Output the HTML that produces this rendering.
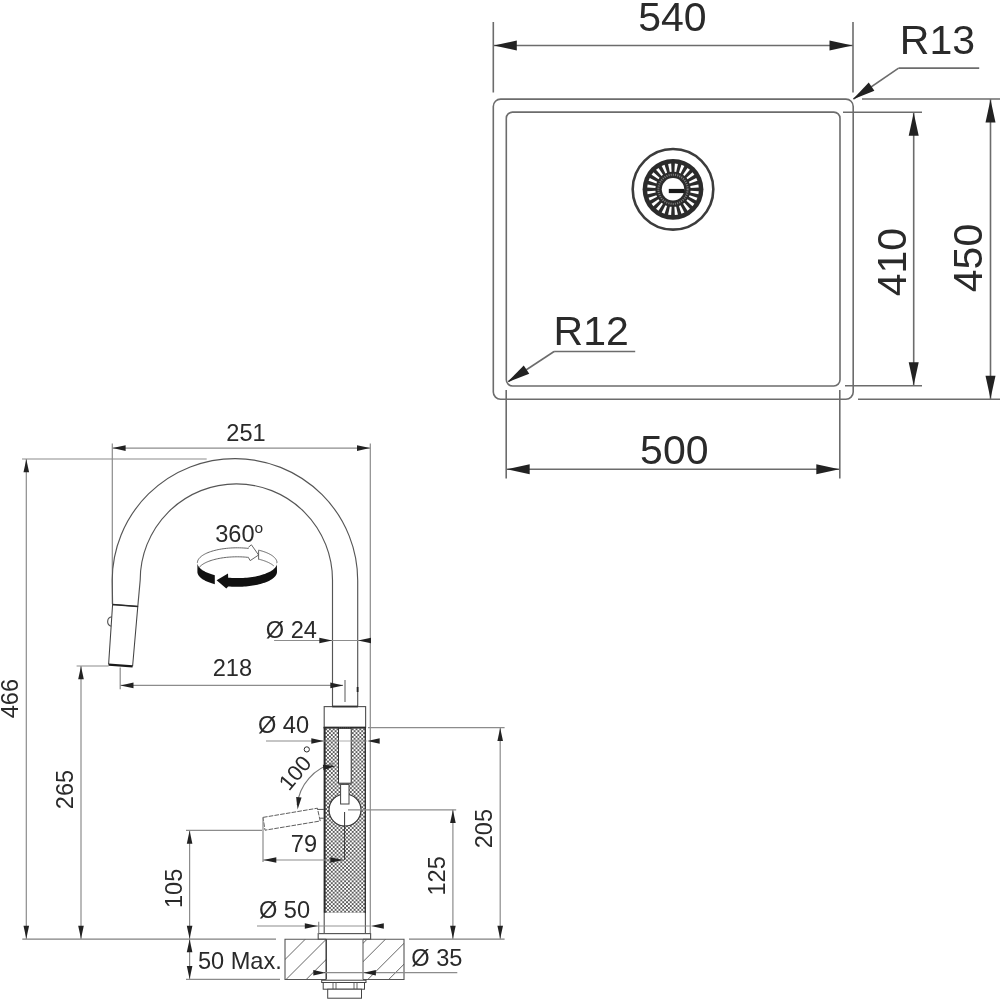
<!DOCTYPE html>
<html><head><meta charset="utf-8"><title>Technical drawing</title>
<style>
html,body{margin:0;padding:0;background:#fff;}
body{width:1000px;height:1000px;overflow:hidden;}
svg{display:block;will-change:transform;opacity:0.999;}
svg text{font-family:"Liberation Sans",sans-serif;}
</style></head><body>
<svg width="1000" height="1000" viewBox="0 0 1000 1000">
<rect width="1000" height="1000" fill="#fff"/>
<rect x="493.3" y="99.1" width="359.9" height="300.1" rx="7.3" ry="7.3" fill="none" stroke="#6c6c6c" stroke-width="1.6"/>
<rect x="506.3" y="112.1" width="333.7" height="273.9" rx="6.2" ry="6.2" fill="none" stroke="#6c6c6c" stroke-width="1.6"/>
<line x1="493.30" y1="22.00" x2="493.30" y2="92.50" stroke="#6c6c6c" stroke-width="1.6" />
<line x1="853.00" y1="22.00" x2="853.00" y2="92.50" stroke="#6c6c6c" stroke-width="1.6" />
<line x1="493.30" y1="45.50" x2="853.00" y2="45.50" stroke="#6c6c6c" stroke-width="1.6" />
<polygon points="493.80,45.50 516.80,40.50 516.80,50.50" fill="#222"/>
<polygon points="852.50,45.50 829.50,50.50 829.50,40.50" fill="#222"/>
<text transform="translate(638.26,30.79)" font-size="41.0" fill="#2a2a2a">540</text>
<text transform="translate(899.81,53.80)" font-size="41.0" fill="#2a2a2a">R13</text>
<line x1="898.60" y1="68.10" x2="979.20" y2="68.10" stroke="#6c6c6c" stroke-width="1.6" />
<line x1="898.60" y1="68.10" x2="853.50" y2="99.00" stroke="#6c6c6c" stroke-width="1.6" />
<polygon points="852.60,99.60 868.75,82.48 874.40,90.73" fill="#222"/>
<line x1="843.00" y1="112.30" x2="922.00" y2="112.30" stroke="#6c6c6c" stroke-width="1.6" />
<line x1="845.00" y1="385.80" x2="922.00" y2="385.80" stroke="#6c6c6c" stroke-width="1.6" />
<line x1="913.70" y1="112.30" x2="913.70" y2="385.80" stroke="#6c6c6c" stroke-width="1.6" />
<polygon points="913.70,112.80 918.70,135.80 908.70,135.80" fill="#222"/>
<polygon points="913.70,385.30 908.70,362.30 918.70,362.30" fill="#222"/>
<text transform="translate(905.75,296.32) rotate(-90)" font-size="41.0" fill="#2a2a2a">410</text>
<line x1="862.00" y1="99.00" x2="1000.00" y2="99.00" stroke="#6c6c6c" stroke-width="1.6" />
<line x1="858.00" y1="399.20" x2="1000.00" y2="399.20" stroke="#6c6c6c" stroke-width="1.6" />
<line x1="990.50" y1="99.00" x2="990.50" y2="399.20" stroke="#6c6c6c" stroke-width="1.6" />
<polygon points="990.50,99.50 995.50,122.50 985.50,122.50" fill="#222"/>
<polygon points="990.50,398.70 985.50,375.70 995.50,375.70" fill="#222"/>
<text transform="translate(981.50,292.18) rotate(-90)" font-size="41.0" fill="#2a2a2a">450</text>
<line x1="506.20" y1="390.00" x2="506.20" y2="478.40" stroke="#6c6c6c" stroke-width="1.6" />
<line x1="839.80" y1="390.00" x2="839.80" y2="478.40" stroke="#6c6c6c" stroke-width="1.6" />
<line x1="506.20" y1="469.30" x2="839.80" y2="469.30" stroke="#6c6c6c" stroke-width="1.6" />
<polygon points="506.70,469.30 529.70,464.30 529.70,474.30" fill="#222"/>
<polygon points="839.30,469.30 816.30,474.30 816.30,464.30" fill="#222"/>
<text transform="translate(640.12,463.94)" font-size="41.0" fill="#2a2a2a">500</text>
<text transform="translate(553.57,344.95)" font-size="41.0" fill="#2a2a2a">R12</text>
<line x1="554.10" y1="351.50" x2="635.20" y2="351.50" stroke="#6c6c6c" stroke-width="1.6" />
<line x1="554.10" y1="351.50" x2="508.50" y2="381.50" stroke="#6c6c6c" stroke-width="1.6" />
<polygon points="507.30,382.30 523.76,365.48 529.26,373.83" fill="#222"/>
<circle cx="673.0" cy="189.3" r="40.3" fill="none" stroke="#3c3c3c" stroke-width="2.6"/>
<circle cx="673.0" cy="189.3" r="30.4" fill="#2b2b2b"/>
<polygon points="690.33,192.49 698.38,194.20 698.78,191.13 690.57,190.70" fill="#fff"/>
<polygon points="688.92,196.87 696.24,200.61 697.43,197.74 689.60,195.20" fill="#fff"/>
<polygon points="686.42,200.73 692.52,206.24 694.41,203.78 687.51,199.30" fill="#fff"/>
<polygon points="683.00,203.81 687.48,210.71 689.94,208.82 684.43,202.72" fill="#fff"/>
<polygon points="678.90,205.90 681.44,213.73 684.31,212.54 680.57,205.22" fill="#fff"/>
<polygon points="674.40,206.87 674.83,215.08 677.90,214.68 676.19,206.63" fill="#fff"/>
<polygon points="669.81,206.63 668.10,214.68 671.17,215.08 671.60,206.87" fill="#fff"/>
<polygon points="665.43,205.22 661.69,212.54 664.56,213.73 667.10,205.90" fill="#fff"/>
<polygon points="661.57,202.72 656.06,208.82 658.52,210.71 663.00,203.81" fill="#fff"/>
<polygon points="658.49,199.30 651.59,203.78 653.48,206.24 659.58,200.73" fill="#fff"/>
<polygon points="656.40,195.20 648.57,197.74 649.76,200.61 657.08,196.87" fill="#fff"/>
<polygon points="655.43,190.70 647.22,191.13 647.62,194.20 655.67,192.49" fill="#fff"/>
<polygon points="655.67,186.11 647.62,184.40 647.22,187.47 655.43,187.90" fill="#fff"/>
<polygon points="657.08,181.73 649.76,177.99 648.57,180.86 656.40,183.40" fill="#fff"/>
<polygon points="659.58,177.87 653.48,172.36 651.59,174.82 658.49,179.30" fill="#fff"/>
<polygon points="663.00,174.79 658.52,167.89 656.06,169.78 661.57,175.88" fill="#fff"/>
<polygon points="667.10,172.70 664.56,164.87 661.69,166.06 665.43,173.38" fill="#fff"/>
<polygon points="671.60,171.73 671.17,163.52 668.10,163.92 669.81,171.97" fill="#fff"/>
<polygon points="676.19,171.97 677.90,163.92 674.83,163.52 674.40,171.73" fill="#fff"/>
<polygon points="680.57,173.38 684.31,166.06 681.44,164.87 678.90,172.70" fill="#fff"/>
<polygon points="684.43,175.88 689.94,169.78 687.48,167.89 683.00,174.79" fill="#fff"/>
<polygon points="687.51,179.30 694.41,174.82 692.52,172.36 686.42,177.87" fill="#fff"/>
<polygon points="689.60,183.40 697.43,180.86 696.24,177.99 688.92,181.73" fill="#fff"/>
<polygon points="690.57,187.90 698.78,187.47 698.38,184.40 690.33,186.11" fill="#fff"/>
<circle cx="673.0" cy="189.3" r="14.6" fill="none" stroke="#7c7c7c" stroke-width="2.0" stroke-dasharray="1.1 1.1"/>
<circle cx="673.0" cy="189.3" r="11.2" fill="#fff"/>
<rect x="668.8" y="188.9" width="15.6" height="4.2" fill="#1a1a1a"/>
<line x1="22.30" y1="939.10" x2="276.00" y2="939.10" stroke="#808080" stroke-width="1.3" />
<line x1="409.00" y1="939.10" x2="504.60" y2="939.10" stroke="#808080" stroke-width="1.3" />
<line x1="22.00" y1="459.00" x2="206.70" y2="459.00" stroke="#8c8c8c" stroke-width="1.2" />
<line x1="26.30" y1="459.00" x2="26.30" y2="939.00" stroke="#8c8c8c" stroke-width="1.2" />
<polygon points="26.30,459.30 29.10,472.30 23.50,472.30" fill="#222"/>
<polygon points="26.30,938.70 23.50,925.70 29.10,925.70" fill="#222"/>
<text transform="translate(18.14,718.31) rotate(-90)" font-size="23.6" fill="#2a2a2a">466</text>
<line x1="76.60" y1="666.00" x2="108.60" y2="666.00" stroke="#8c8c8c" stroke-width="1.2" />
<line x1="81.00" y1="666.00" x2="81.00" y2="939.00" stroke="#8c8c8c" stroke-width="1.2" />
<polygon points="81.00,666.30 83.80,679.30 78.20,679.30" fill="#222"/>
<polygon points="81.00,938.70 78.20,925.70 83.80,925.70" fill="#222"/>
<text transform="translate(72.94,809.16) rotate(-90)" font-size="23.6" fill="#2a2a2a">265</text>
<line x1="186.00" y1="830.40" x2="262.00" y2="830.40" stroke="#8c8c8c" stroke-width="1.2" />
<line x1="189.60" y1="830.40" x2="189.60" y2="979.40" stroke="#8c8c8c" stroke-width="1.2" />
<polygon points="189.60,830.70 192.40,843.70 186.80,843.70" fill="#222"/>
<polygon points="189.60,938.70 186.80,925.70 192.40,925.70" fill="#222"/>
<polygon points="189.60,939.30 192.40,952.30 186.80,952.30" fill="#222"/>
<polygon points="189.60,979.10 186.80,966.10 192.40,966.10" fill="#222"/>
<text transform="translate(182.44,908.06) rotate(-90)" font-size="23.6" fill="#2a2a2a">105</text>
<line x1="186.00" y1="979.40" x2="280.00" y2="979.40" stroke="#8c8c8c" stroke-width="1.2" />
<text transform="translate(197.89,968.64)" font-size="23.6" fill="#2a2a2a">50 Max.</text>
<line x1="112.30" y1="443.40" x2="112.30" y2="604.00" stroke="#8c8c8c" stroke-width="1.2" />
<line x1="370.30" y1="443.40" x2="370.30" y2="933.50" stroke="#8c8c8c" stroke-width="1.2" />
<line x1="112.30" y1="448.10" x2="370.30" y2="448.10" stroke="#8c8c8c" stroke-width="1.2" />
<polygon points="112.60,448.10 125.60,445.30 125.60,450.90" fill="#222"/>
<polygon points="370.00,448.10 357.00,450.90 357.00,445.30" fill="#222"/>
<text transform="translate(226.29,440.54)" font-size="23.6" fill="#2a2a2a">251</text>
<path d="M112.6 604.4 L112.2 580 A122.75 121.9 0 0 1 357.7 581 L357.7 707" fill="none" stroke="#555555" stroke-width="1.15"/>
<path d="M137.8 606.4 L140.2 580 A96.15 96.1 0 0 1 332.5 580 L332.5 707" fill="none" stroke="#555555" stroke-width="1.15"/>
<path d="M112.6 604.4 L137.8 606.4 L132.6 666.2 M108.6 664.4 L112.6 604.4" fill="none" stroke="#444" stroke-width="1.05"/>
<line x1="108.60" y1="664.60" x2="132.60" y2="666.40" stroke="#1a1a1a" stroke-width="2.2" />
<line x1="112.40" y1="604.50" x2="137.90" y2="606.50" stroke="#2a2a2a" stroke-width="1.7" />
<path d="M111.9 616.8 A4.8 4.8 0 0 0 111.2 626.2" fill="none" stroke="#555555" stroke-width="1.15"/>
<g id="rot">
<polygon points="197.40,562.80 197.41,563.16 197.45,563.53 197.51,563.89 197.59,564.26 197.69,564.62 197.82,564.98 197.98,565.34 198.15,565.70 198.35,566.06 198.57,566.41 198.82,566.77 199.08,567.12 199.37,567.46 199.69,567.81 200.02,568.15 200.38,568.49 200.75,568.83 201.15,569.16 201.58,569.49 202.02,569.81 202.48,570.13 202.96,570.45 203.47,570.76 203.99,571.07 204.54,571.37 205.10,571.67 205.68,571.96 206.28,572.24 206.90,572.53 207.54,572.80 208.19,573.07 208.86,573.33 209.55,573.59 210.25,573.84 210.97,574.08 211.71,574.32 212.46,574.55 213.23,574.77 214.01,574.99 214.80,575.20 214.80,584.20 214.01,583.99 213.23,583.77 212.46,583.55 211.71,583.32 210.97,583.08 210.25,582.84 209.55,582.59 208.86,582.33 208.19,582.07 207.54,581.80 206.90,581.53 206.28,581.24 205.68,580.96 205.10,580.67 204.54,580.37 203.99,580.07 203.47,579.76 202.96,579.45 202.48,579.13 202.02,578.81 201.58,578.49 201.15,578.16 200.75,577.83 200.38,577.49 200.02,577.15 199.69,576.81 199.37,576.46 199.08,576.12 198.82,575.77 198.57,575.41 198.35,575.06 198.15,574.70 197.98,574.34 197.82,573.98 197.69,573.62 197.59,573.26 197.51,572.89 197.45,572.53 197.41,572.16 197.40,571.80" fill="#111" stroke="none" stroke-width="0"/>
<polygon points="276.80,561.60 276.95,562.31 277.00,563.02 276.96,563.74 276.84,564.45 276.63,565.15 276.32,565.86 275.93,566.55 275.45,567.24 274.89,567.92 274.24,568.59 273.51,569.25 272.69,569.89 271.80,570.52 270.82,571.13 269.77,571.72 268.65,572.29 267.46,572.84 266.20,573.37 264.87,573.88 263.48,574.36 262.04,574.82 260.53,575.25 258.98,575.66 257.37,576.03 255.72,576.38 254.03,576.69 252.30,576.98 250.53,577.23 248.74,577.46 246.92,577.65 245.07,577.80 243.21,577.93 241.34,578.02 239.46,578.08 237.57,578.10 235.68,578.09 233.79,578.04 231.92,577.97 230.05,577.86 228.20,577.71 228.00,573.40 216.60,580.30 226.30,588.40 228.20,586.41 229.95,586.55 231.72,586.66 233.50,586.73 235.28,586.78 237.07,586.80 238.86,586.79 240.65,586.74 242.43,586.67 244.19,586.57 245.95,586.43 247.69,586.27 249.40,586.08 251.09,585.86 252.75,585.61 254.39,585.33 255.98,585.02 257.54,584.69 259.06,584.34 260.53,583.95 261.96,583.54 263.33,583.11 264.66,582.66 265.92,582.18 267.13,581.69 268.28,581.17 269.37,580.63 270.39,580.08 271.34,579.51 272.23,578.92 273.04,578.32 273.78,577.71 274.45,577.08 275.04,576.44 275.56,575.80 276.00,575.14 276.36,574.48 276.64,573.82 276.84,573.15 276.96,572.47 277.00,571.80" fill="#111" stroke="none" stroke-width="0"/>
<polyline points="197.40,562.80 197.44,562.10 197.57,561.41 197.79,560.71 198.09,560.02 198.47,559.34 198.94,558.67 199.49,558.00 200.13,557.34 200.84,556.70 201.63,556.07 202.50,555.45 203.45,554.85 204.46,554.27 205.55,553.70 206.71,553.16 207.93,552.64 209.22,552.13 210.56,551.65 211.97,551.20 213.43,550.77 214.94,550.37 216.50,549.99 218.10,549.64 219.74,549.32 221.43,549.03 223.14,548.77 224.89,548.54 226.67,548.34 228.46,548.17 230.28,548.03 232.11,547.92 233.95,547.85 235.80,547.81 237.65,547.80 239.50,547.83 241.35,547.88 243.18,547.97 245.01,548.09 246.81,548.24 248.60,548.43" fill="none" stroke="#555" stroke-width="0.9"/>
<polyline points="198.64,568.09 199.07,567.50 199.56,566.93 200.11,566.36 200.72,565.80 201.40,565.25 202.13,564.71 202.92,564.18 203.76,563.66 204.66,563.16 205.62,562.67 206.62,562.20 207.67,561.74 208.78,561.30 209.93,560.88 211.12,560.47 212.35,560.08 213.63,559.71 214.95,559.36 216.30,559.04 217.68,558.73 219.10,558.44 220.55,558.18 222.02,557.93 223.52,557.71 225.04,557.52 226.58,557.34 228.14,557.19 229.71,557.07 231.30,556.97 232.89,556.89 234.50,556.83 236.10,556.81 237.71,556.80 239.32,556.82 240.92,556.87 242.52,556.93 244.11,557.03 245.69,557.15 247.25,557.29 248.80,557.45" fill="none" stroke="#555" stroke-width="0.9"/>
<polyline points="248.40,547.30 251.40,544.80 258.60,555.00 250.20,560.60 248.70,558.00" fill="none" stroke="#555" stroke-width="0.9"/>
<polyline points="258.60,559.40 258.60,550.40 258.60,550.15 259.43,550.36 260.26,550.57 261.06,550.79 261.85,551.02 262.63,551.26 263.39,551.50 264.13,551.76 264.86,552.01 265.57,552.28 266.26,552.55 266.93,552.83 267.58,553.11 268.22,553.40 268.84,553.70 269.43,554.00 270.01,554.31 270.56,554.62 271.09,554.94 271.61,555.26 272.10,555.59 272.57,555.92 273.01,556.26 273.44,556.60 273.84,556.94 274.22,557.29 274.57,557.64 274.90,558.00 275.21,558.35 275.50,558.71 275.76,559.08 275.99,559.44 276.20,559.81 276.39,560.18 276.55,560.55 276.69,560.92 276.80,561.30 276.89,561.67 276.95,562.05 276.99,562.42 277.00,562.80" fill="none" stroke="#555" stroke-width="0.9"/>
<polyline points="258.60,559.40 259.27,559.32 259.75,559.44 260.22,559.56 260.69,559.69 261.16,559.82 261.62,559.96 262.08,560.09 262.53,560.23 262.97,560.37 263.41,560.51 263.84,560.66 264.27,560.80 264.69,560.95 265.11,561.11 265.52,561.26 265.93,561.42 266.32,561.58 266.72,561.74 267.10,561.90 267.48,562.07 267.86,562.23 268.22,562.40 268.58,562.57 268.94,562.75 269.28,562.92 269.62,563.10 269.96,563.28 270.28,563.46 270.60,563.64 270.91,563.83 271.22,564.01 271.52,564.20 271.81,564.39 272.09,564.58 272.36,564.77 272.63,564.97 272.89,565.16 273.15,565.36 273.39,565.56 273.63,565.76 273.86,565.96" fill="none" stroke="#555" stroke-width="0.9"/>
</g>
<text transform="translate(215.14,541.54)" font-size="23.6" fill="#2a2a2a">360</text>
<text transform="translate(254.60,533.01)" font-size="15.5" fill="#2a2a2a">o</text>
<text transform="translate(265.79,637.50)" font-size="23.6" fill="#2a2a2a">Ø 24</text>
<line x1="274.10" y1="640.50" x2="370.30" y2="640.50" stroke="#8c8c8c" stroke-width="1.2" />
<polygon points="332.30,640.50 319.30,643.30 319.30,637.70" fill="#222"/>
<polygon points="358.00,640.50 371.00,637.70 371.00,643.30" fill="#222"/>
<text transform="translate(212.74,676.44)" font-size="23.6" fill="#2a2a2a">218</text>
<line x1="120.20" y1="667.60" x2="120.20" y2="689.20" stroke="#8c8c8c" stroke-width="1.2" />
<line x1="120.20" y1="685.40" x2="343.00" y2="685.40" stroke="#8c8c8c" stroke-width="1.2" />
<polygon points="120.50,685.40 133.50,682.60 133.50,688.20" fill="#222"/>
<polygon points="343.30,685.40 330.30,688.20 330.30,682.60" fill="#222"/>
<line x1="345.00" y1="680.00" x2="345.00" y2="702.00" stroke="#666" stroke-width="1.1" />
<line x1="357.60" y1="687.00" x2="357.60" y2="692.00" stroke="#222" stroke-width="1.8" />
<rect x="324.2" y="706.6" width="41.4" height="20.8" fill="#fff" stroke="#555555" stroke-width="1.15"/>
<line x1="332.20" y1="706.50" x2="357.90" y2="706.50" stroke="#333" stroke-width="1.8" />
<defs><pattern id="mesh" x="324.2" y="727.4" width="3.8" height="3.8" patternUnits="userSpaceOnUse">
<rect width="3.8" height="3.8" fill="#fff"/>
<path d="M-1 1 L1 -1 M0 3.8 L3.8 0 M2.8 4.8 L4.8 2.8 M-1 2.8 L1 4.8 M0 0 L3.8 3.8 M2.8 -1 L4.8 1" stroke="#2a2a2a" stroke-width="0.72" fill="none"/></pattern></defs>
<rect x="324.2" y="727.4" width="41.4" height="185.5" fill="url(#mesh)"/>
<line x1="324.60" y1="727.40" x2="324.60" y2="912.90" stroke="#2a2a2a" stroke-width="2.0" />
<line x1="365.30" y1="727.40" x2="365.30" y2="912.90" stroke="#333" stroke-width="1.4" />
<line x1="323.60" y1="727.60" x2="366.00" y2="727.60" stroke="#2a2a2a" stroke-width="1.8" />
<rect x="338.5" y="728.4" width="12.7" height="54.8" fill="#fff" stroke="#333" stroke-width="1.0"/>
<line x1="339.00" y1="728.00" x2="351.00" y2="728.00" stroke="#555" stroke-width="1.2" stroke-dasharray="1 1"/>
<circle cx="345" cy="810" r="16" fill="#fff" stroke="#333" stroke-width="1.2"/>
<rect x="340.6" y="784.4" width="8.4" height="19.6" fill="#fff" stroke="#444" stroke-width="1.0"/>
<line x1="348.00" y1="809.80" x2="456.20" y2="809.80" stroke="#8c8c8c" stroke-width="1.2" />
<line x1="344.60" y1="812.00" x2="344.60" y2="860.00" stroke="#333" stroke-width="1.0" />
<line x1="324.20" y1="912.90" x2="324.20" y2="933.50" stroke="#555555" stroke-width="1.15" />
<line x1="365.40" y1="912.90" x2="365.40" y2="933.50" stroke="#555555" stroke-width="1.15" />
<rect x="318.2" y="933.6" width="52.4" height="5.6" fill="#fff" stroke="#555555" stroke-width="1.15"/>
<line x1="318.70" y1="921.70" x2="318.70" y2="933.60" stroke="#8c8c8c" stroke-width="1.2" />
<text transform="translate(257.95,733.20)" font-size="23.6" fill="#2a2a2a">Ø 40</text>
<line x1="266.00" y1="741.00" x2="324.00" y2="741.00" stroke="#8c8c8c" stroke-width="1.2" />
<line x1="324.00" y1="741.00" x2="367.00" y2="741.00" stroke="#999" stroke-width="0.8" />
<polygon points="323.80,741.00 311.30,743.80 311.30,738.20" fill="#222"/>
<polygon points="367.20,741.00 379.70,738.20 379.70,743.80" fill="#222"/>
<line x1="368.00" y1="727.60" x2="504.60" y2="727.60" stroke="#8c8c8c" stroke-width="1.2" />
<line x1="500.20" y1="727.60" x2="500.20" y2="939.00" stroke="#8c8c8c" stroke-width="1.2" />
<polygon points="500.20,727.90 503.00,740.90 497.40,740.90" fill="#222"/>
<polygon points="500.20,938.70 497.40,925.70 503.00,925.70" fill="#222"/>
<text transform="translate(491.84,848.36) rotate(-90)" font-size="23.6" fill="#2a2a2a">205</text>
<line x1="452.90" y1="809.80" x2="452.90" y2="939.00" stroke="#8c8c8c" stroke-width="1.2" />
<polygon points="452.90,810.10 455.70,823.10 450.10,823.10" fill="#222"/>
<polygon points="452.90,938.70 450.10,925.70 455.70,925.70" fill="#222"/>
<text transform="translate(445.09,895.61) rotate(-90)" font-size="23.6" fill="#2a2a2a">125</text>
<path d="M334 763.3 A48 48 0 0 0 297.2 805" fill="none" stroke="#777" stroke-width="1.1"/>
<polygon points="335.80,766.00 323.52,770.24 322.86,764.78" fill="#222"/>
<polygon points="297.60,809.60 296.11,796.89 301.58,797.44" fill="#222"/>
<text transform="translate(295.3,772.6) rotate(-50) translate(-18.75,7.59)" font-size="22.0" fill="#2a2a2a">100</text>
<circle cx="306.8" cy="749.4" r="2.6" fill="none" stroke="#2a2a2a" stroke-width="1.0"/>
<path d="M263 817.4 L317.4 808.2 L320.2 821 L265 830.2 Z" fill="#fff" stroke="#555" stroke-width="0.95" stroke-dasharray="4.6 1.2"/>
<path d="M317.4 809.4 L324 809.4 M320 818.2 L324 818.2" fill="none" stroke="#555555" stroke-width="1.0"/>
<line x1="263.00" y1="817.60" x2="263.00" y2="862.00" stroke="#8c8c8c" stroke-width="1.2" />
<line x1="263.00" y1="860.00" x2="343.00" y2="860.00" stroke="#8c8c8c" stroke-width="1.2" />
<polygon points="263.30,860.00 276.30,857.20 276.30,862.80" fill="#222"/>
<polygon points="343.30,860.00 330.30,862.80 330.30,857.20" fill="#222"/>
<text transform="translate(290.84,851.54)" font-size="23.6" fill="#2a2a2a">79</text>
<text transform="translate(258.95,917.70)" font-size="23.6" fill="#2a2a2a">Ø 50</text>
<line x1="257.00" y1="926.00" x2="318.00" y2="926.00" stroke="#8c8c8c" stroke-width="1.2" />
<line x1="318.00" y1="926.00" x2="370.00" y2="926.00" stroke="#888" stroke-width="0.9" />
<polygon points="317.80,926.00 304.80,928.80 304.80,923.20" fill="#222"/>
<polygon points="370.80,926.00 383.80,923.20 383.80,928.80" fill="#222"/>
<clipPath id="cl"><rect x="285" y="939.3" width="41.2" height="40.2"/></clipPath>
<clipPath id="cr"><rect x="363" y="939.3" width="41" height="40.2"/></clipPath>
<g clip-path="url(#cl)">
<line x1="254.50" y1="990.00" x2="314.50" y2="930.00" stroke="#666" stroke-width="1.0" />
<line x1="275.50" y1="990.00" x2="335.50" y2="930.00" stroke="#666" stroke-width="1.0" />
<line x1="295.70" y1="990.00" x2="355.70" y2="930.00" stroke="#666" stroke-width="1.0" />
<line x1="316.30" y1="990.00" x2="376.30" y2="930.00" stroke="#666" stroke-width="1.0" />
</g>
<g clip-path="url(#cr)">
<line x1="316.30" y1="990.00" x2="376.30" y2="930.00" stroke="#666" stroke-width="1.0" />
<line x1="334.70" y1="990.00" x2="394.70" y2="930.00" stroke="#666" stroke-width="1.0" />
<line x1="357.30" y1="990.00" x2="417.30" y2="930.00" stroke="#666" stroke-width="1.0" />
<line x1="378.20" y1="990.00" x2="438.20" y2="930.00" stroke="#666" stroke-width="1.0" />
<line x1="399.00" y1="990.00" x2="459.00" y2="930.00" stroke="#666" stroke-width="1.0" />
</g>
<path d="M326.2 939.3 L285 939.3 L285 979.5 L326.2 979.5" fill="none" stroke="#555" stroke-width="1.1"/>
<path d="M363 939.3 L404 939.3 L404 979.5 L363 979.5" fill="none" stroke="#555" stroke-width="1.1"/>
<line x1="326.20" y1="939.30" x2="326.20" y2="979.50" stroke="#333" stroke-width="1.4" />
<line x1="363.00" y1="939.30" x2="363.00" y2="979.50" stroke="#555" stroke-width="1.0" />
<text transform="translate(411.26,966.05)" font-size="23.6" fill="#2a2a2a">Ø 35</text>
<line x1="324.00" y1="972.70" x2="457.30" y2="972.70" stroke="#8c8c8c" stroke-width="1.2" />
<polygon points="325.80,972.70 313.30,975.50 313.30,969.90" fill="#222"/>
<polygon points="363.40,972.70 375.90,969.90 375.90,975.50" fill="#222"/>
<rect x="321.7" y="980.2" width="44.3" height="2.3" fill="#fff" stroke="#444" stroke-width="1"/>
<rect x="323.2" y="982.5" width="41.3" height="6.7" fill="#fff" stroke="#444" stroke-width="1"/>
<line x1="333.00" y1="982.50" x2="333.00" y2="989.20" stroke="#555" stroke-width="0.9" />
<line x1="336.00" y1="982.50" x2="336.00" y2="989.20" stroke="#555" stroke-width="0.9" />
<line x1="354.00" y1="982.50" x2="354.00" y2="989.20" stroke="#555" stroke-width="0.9" />
<line x1="357.00" y1="982.50" x2="357.00" y2="989.20" stroke="#555" stroke-width="0.9" />
<rect x="327.7" y="989.2" width="33.8" height="9" fill="#fff" stroke="#444" stroke-width="1"/>
</svg>
</body></html>
